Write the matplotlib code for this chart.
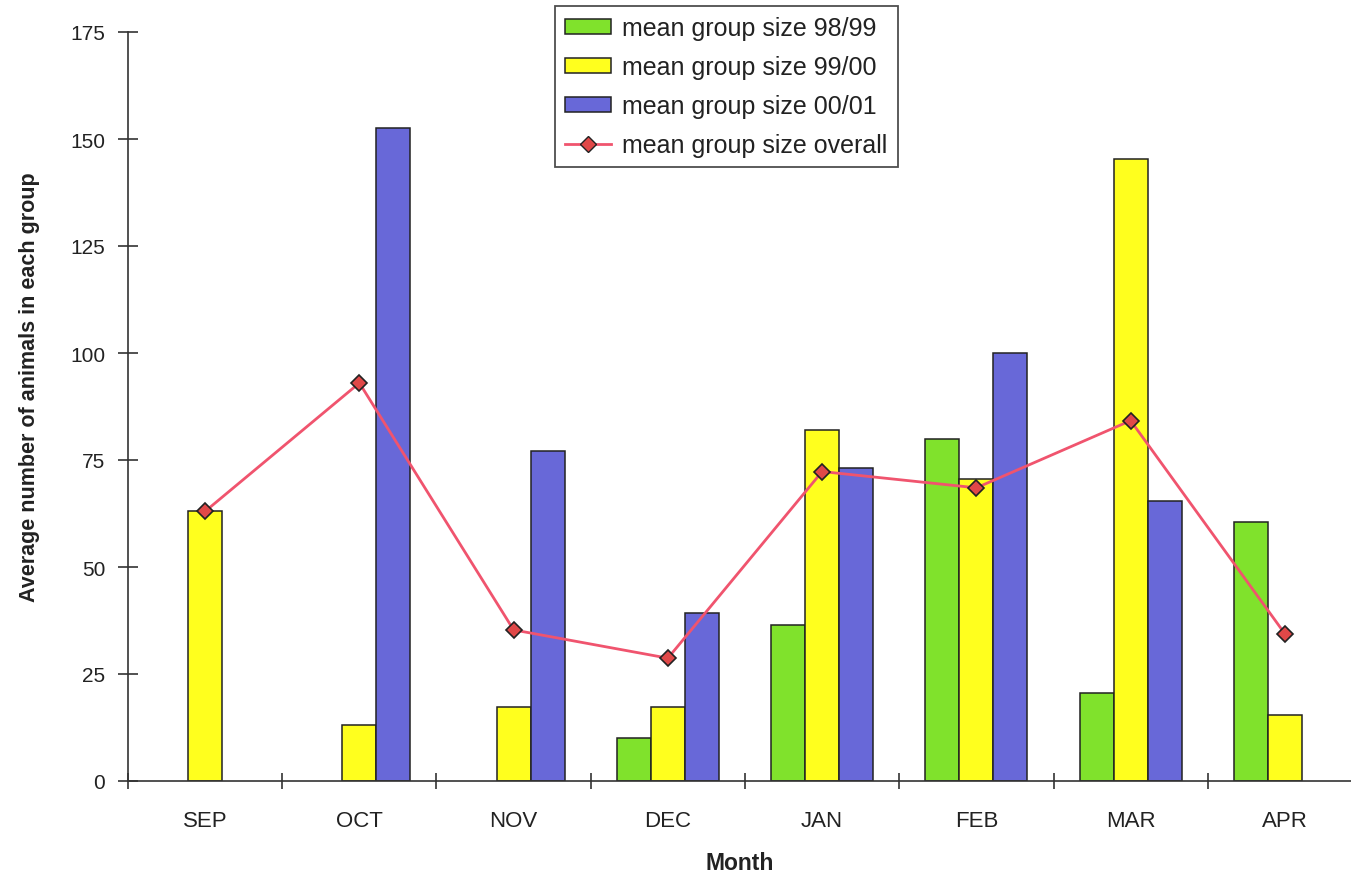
import numpy as np
import matplotlib.pyplot as plt
from matplotlib.lines import Line2D
from matplotlib.patches import Patch

months = ['SEP', 'OCT', 'NOV', 'DEC', 'JAN', 'FEB', 'MAR', 'APR']
size_98_99 = [np.nan, np.nan, np.nan, 10, 36.5, 80, 20.5, 60.5]
size_99_00 = [63, 13, 17.3, 17.3, 82, 70.5, 145.3, 15.4]
size_00_01 = [np.nan, 152.5, 77.2, 39.3, 73.2, 100, 65.5, np.nan]
size_overall = [63, 93, 35.3, 28.7, 72.3, 68.5, 84.2, 34.4]

plt.rcParams['font.family'] = ['Liberation Sans', 'DejaVu Sans']

c_green = '#80e22c'
c_yellow = '#ffff1e'
c_blue = '#6868d8'
c_line = '#f0546e'
axcol = '#333333'

fig = plt.figure(figsize=(13.51, 8.78), dpi=100)
ax = fig.add_axes([128 / 1351, 96 / 878, 1234 / 1351, 749 / 878])

x = np.arange(len(months))
w = 0.22
for vals, off, col in [(size_98_99, -w, c_green), (size_99_00, 0, c_yellow),
                       (size_00_01, w, c_blue)]:
    v = np.array(vals, dtype=float)
    m = ~np.isnan(v)
    ax.bar(x[m] + off, v[m], width=w, color=col, edgecolor='#222222',
           linewidth=1.1, zorder=2)

ax.plot(x, size_overall, color=c_line, lw=2, marker='D', ms=8,
        markerfacecolor='#e04848', markeredgecolor='#222222',
        markeredgewidth=1.2, zorder=3)

ax.set_xlim(-0.5, len(months) - 0.5)
ax.set_ylim(0, 175)
ax.set_yticks(np.arange(0, 176, 25))
ax.set_xticks(x)
ax.set_xticklabels(months)
ax.set_xticks(np.arange(-0.5, len(months), 1), minor=True)

for s in ['top', 'right']:
    ax.spines[s].set_visible(False)
for s in ['left', 'bottom']:
    ax.spines[s].set_color(axcol)
    ax.spines[s].set_linewidth(1.2)

ax.tick_params(axis='y', direction='inout', length=15, width=1.2, color=axcol,
               labelsize=15, pad=9, labelcolor='#222222')
ax.tick_params(axis='x', which='major', length=0, labelsize=16, pad=21,
               labelcolor='#222222')
ax.tick_params(axis='x', which='minor', direction='inout', length=12,
               width=1.2, color=axcol)

ax.set_ylabel('Average number of animals in each group', fontsize=15.5,
              fontweight='bold', color='#222222')
ax.yaxis.set_label_coords(-0.071, 0.527)
ax.set_xlabel('Month', fontsize=16.5, fontweight='bold', color='#222222')
ax.xaxis.set_label_coords(0.496, -0.094)

handles = [
    Patch(facecolor=c_green, edgecolor='#222222', linewidth=1.1),
    Patch(facecolor=c_yellow, edgecolor='#222222', linewidth=1.1),
    Patch(facecolor=c_blue, edgecolor='#222222', linewidth=1.1),
    Line2D([], [], color=c_line, lw=2, marker='D', ms=8,
           markerfacecolor='#e04848', markeredgecolor='#222222'),
]
labels = ['mean group size 98/99', 'mean group size 99/00',
          'mean group size 00/01', 'mean group size overall']
leg = fig.legend(handles, labels, loc='upper left',
                 bbox_to_anchor=(555 / 1351, 1 - 7 / 878), fontsize=18,
                 frameon=True, fancybox=False, edgecolor='#222222',
                 handlelength=1.85, handleheight=0.55, labelspacing=0.6,
                 borderpad=0.4, handletextpad=0.45, borderaxespad=0)
leg.get_frame().set_linewidth(1.3)
for t in leg.get_texts():
    t.set_color('#222222')

fig.savefig('out.png', dpi=100)
